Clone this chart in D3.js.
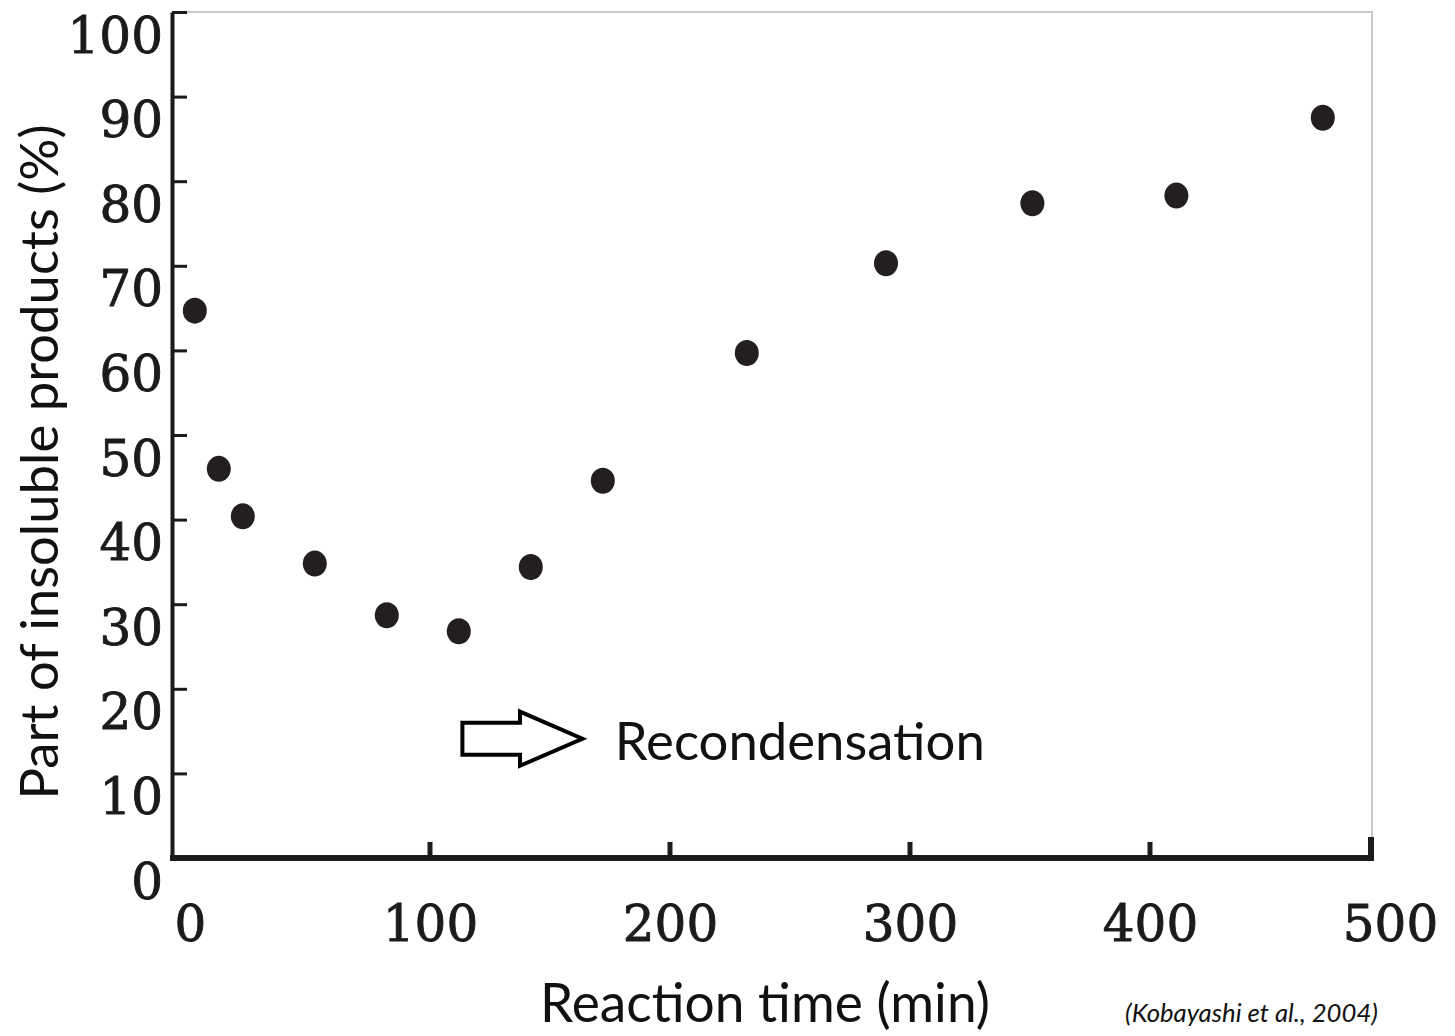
<!DOCTYPE html>
<html>
<head>
<meta charset="utf-8">
<script src="https://cdn.jsdelivr.net/npm/d3@7"></script>
<style>
  body { margin: 0; background: #fff; }
  svg { display: block; }
</style>
</head>
<body>
<div class="chart"></div>
<script>
// reaction time (min) and part of insoluble products (%)
const times = [2, 12, 22, 52, 82, 112, 142, 172, 232, 290, 351, 411, 472]
const insoluble = [64.7, 46.0, 40.4, 34.8, 28.7, 26.8, 34.4, 44.6, 59.7, 70.3, 77.4, 78.3, 87.5]

const xTickLabels = [0, 100, 200, 300, 400, 500]
const xTickMarks = [100, 200, 300, 400]
const yTickLabels = [0, 10, 20, 30, 40, 50, 60, 70, 80, 90, 100]

// frame extent in data units (axis starts a little left of 0)
const xExtent = [-7.5, 492.5]
const yExtent = [0, 100]

// arrow annotation, data units
const arrowX = [113.5, 137.5, 163.5]      // tail, head base, tip
const arrowY = [10.9, 12.2, 16.0, 17.3]   // head bottom, shaft bottom, shaft top, head top
const noteX = 177
const noteY = 13.7

const W = 1455
const H = 1036
const INK = '#1c1a1b'
const SERIF = '"DejaVu Serif", serif'
const SANS = 'Lato, "Open Sans", sans-serif'

const svg = d3.select('.chart').append('svg')
  .attr('width', W)
  .attr('height', H)

const x = d3.scaleLinear().domain([0, 500]).range([190, 1390])
const y = d3.scaleLinear().domain([0, 100]).range([858, 12])

const frameLeft = x(xExtent[0])
const frameRight = x(xExtent[1])
const frameTop = y(yExtent[1])
const frameBottom = y(yExtent[0])

// light grey frame on top and right
svg.append('path')
  .attr('d', `M${frameLeft},${frameTop} H${frameRight} V${frameBottom}`)
  .attr('fill', 'none')
  .attr('stroke', '#c8c8c8')
  .attr('stroke-width', 2)

// y axis: ticks point inward, labels sit just under each tick
const yAxis = svg.append('g')
  .attr('transform', `translate(${frameLeft},0)`)
  .call(d3.axisLeft(y).tickValues(yTickLabels).tickSizeInner(-15).tickSizeOuter(0).tickPadding(9))
yAxis.select('.domain').attr('stroke', INK).attr('stroke-width', 4)
yAxis.selectAll('.tick line').attr('stroke', INK).attr('stroke-width', 3)
yAxis.selectAll('.tick').filter(d => d === 0).select('line').remove()
yAxis.selectAll('.tick text')
  .attr('dy', 40)
  .attr('fill', INK)
  .attr('stroke', INK)
  .attr('stroke-width', 0.9)
  .style('font-family', SERIF)
  .style('font-size', '50px')

// x axis line, drawn thick
svg.append('line')
  .attr('x1', frameLeft - 2).attr('x2', frameRight + 2)
  .attr('y1', frameBottom).attr('y2', frameBottom)
  .attr('stroke', INK)
  .attr('stroke-width', 6)
svg.append('line')
  .attr('x1', frameRight - 1).attr('x2', frameRight - 1)
  .attr('y1', frameBottom - 21).attr('y2', frameBottom)
  .attr('stroke', INK)
  .attr('stroke-width', 6)

svg.selectAll('.xmark')
  .data(xTickMarks)
  .join('line')
  .attr('class', 'xmark')
  .attr('x1', d => x(d)).attr('x2', d => x(d))
  .attr('y1', frameBottom - 16).attr('y2', frameBottom)
  .attr('stroke', INK)
  .attr('stroke-width', 5)

const xAxis = svg.append('g')
  .attr('transform', `translate(0,${frameBottom})`)
  .call(d3.axisBottom(x).tickValues(xTickLabels).tickSize(0))
xAxis.select('.domain').remove()
xAxis.selectAll('.tick text')
  .attr('y', 83)
  .attr('dy', 0)
  .attr('fill', INK)
  .attr('stroke', INK)
  .attr('stroke-width', 0.9)
  .style('font-family', SERIF)
  .style('font-size', '50px')

// points
svg.selectAll('.pt')
  .data(times.map((t, i) => [t, insoluble[i]]))
  .join('ellipse')
  .attr('class', 'pt')
  .attr('cx', d => x(d[0]))
  .attr('cy', d => y(d[1]))
  .attr('rx', 12)
  .attr('ry', 13)
  .attr('fill', '#231f20')

// arrow
const [ax0, ax1, ax2] = arrowX.map(x)
const [ay0, ay1, ay2, ay3] = arrowY.map(y)
const ayMid = (ay0 + ay3) / 2
svg.append('path')
  .attr('d', `M${ax0},${ay2} H${ax1} V${ay3} L${ax2},${ayMid} L${ax1},${ay0} V${ay1} H${ax0} Z`)
  .attr('fill', '#fff')
  .attr('stroke', '#000')
  .attr('stroke-width', 4)
  .attr('stroke-linejoin', 'miter')

// fit a text element to a target width
const fit = (sel, width) => {
  const len = sel.node().getComputedTextLength()
  const size = parseFloat(sel.style('font-size'))
  sel.style('font-size', `${size * width / len}px`)
  return sel
}

fit(svg.append('text')
  .attr('x', x(noteX))
  .attr('y', y(noteY) + 18)
  .attr('fill', '#111')
  .style('font-family', SANS)
  .style('font-size', '48px')
  .text('Recondensation'), 370)

fit(svg.append('text')
  .attr('transform', `translate(58,${462}) rotate(-90)`)
  .attr('text-anchor', 'middle')
  .attr('fill', '#111')
  .style('font-family', SANS)
  .style('font-size', '48px')
  .text('Part of insoluble products (%)'), 675)

fit(svg.append('text')
  .attr('x', 765)
  .attr('y', 1022)
  .attr('text-anchor', 'middle')
  .attr('fill', '#111')
  .style('font-family', SANS)
  .style('font-size', '48px')
  .text('Reaction time (min)'), 450)

fit(svg.append('text')
  .attr('x', 1378)
  .attr('y', 1022)
  .attr('text-anchor', 'end')
  .attr('fill', '#111')
  .style('font-family', SANS)
  .style('font-style', 'italic')
  .style('font-size', '22px')
  .text('(Kobayashi et al., 2004)'), 253)
</script>
</body>
</html>
